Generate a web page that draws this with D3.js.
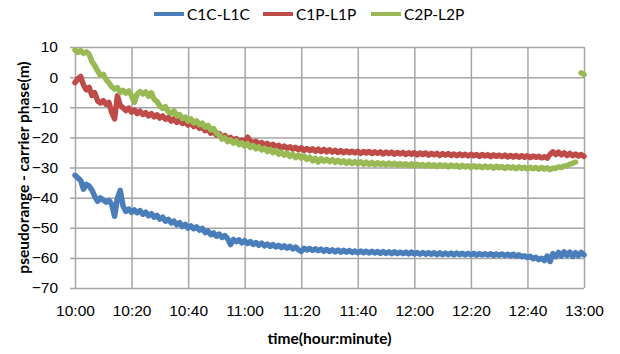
<!DOCTYPE html>
<html>
<head>
<meta charset="utf-8">
<script src="https://cdn.jsdelivr.net/npm/d3@7"></script>
<style>
  body { margin: 0; background: #fff; }
  svg { font-family: "Lato", "Liberation Sans", sans-serif; }
</style>
</head>
<body>
<div id="chart"></div>
<script>
// one sample per minute from 10:00 to 13:00
const start = new Date(2000, 0, 1, 10, 0);
const minutes = d3.range(0, 181);

const c1c = [
  -32.6, -33.4, -34.3, -37.2, -35.6, -36.2, -37.5, -39.6, -41.2, -40.1,
  -40.8, -41.5, -40.9, -42.3, -46.2, -40.2, -37.6, -42.8, -44.6, -43.8,
  -44.9, -44.1, -45.0, -44.3, -45.5, -44.8, -46.0, -45.3, -46.5, -45.9,
  -47.1, -46.5, -47.8, -47.2, -48.4, -47.8, -49.0, -48.3, -49.6, -48.9,
  -50.1, -49.4, -50.3, -49.7, -50.8, -50.2, -51.6, -51.0, -52.3, -51.7,
  -52.8, -52.1, -53.2, -52.6, -53.7, -55.6, -53.9, -54.6, -54.0, -55.0,
  -54.3, -55.2, -54.6, -55.5, -54.9, -55.8, -55.1, -56.0, -55.4, -56.2,
  -55.6, -56.4, -55.8, -56.6, -56.0, -56.8, -56.2, -57.0, -56.4, -57.3,
  -57.9, -56.8, -57.4, -56.9, -57.5, -57.0, -57.6, -57.1, -57.8, -57.2,
  -57.9, -57.3, -58.0, -57.4, -58.1, -57.5, -58.1, -57.6, -58.2, -57.7,
  -58.3, -57.7, -58.3, -57.8, -58.4, -57.8, -58.4, -57.9, -58.5, -57.9,
  -58.5, -58.0, -58.6, -58.0, -58.6, -58.1, -58.6, -58.1, -58.7, -58.1,
  -58.7, -58.2, -58.8, -58.2, -58.8, -58.3, -58.8, -58.3, -58.9, -58.3,
  -58.9, -58.4, -58.9, -58.4, -59.0, -58.4, -58.9, -58.5, -59.0, -58.5,
  -59.0, -58.5, -59.1, -58.6, -59.0, -58.6, -59.1, -58.6, -59.2, -58.7,
  -59.1, -58.7, -59.2, -58.8, -59.3, -58.8, -59.4, -59.0, -59.6, -59.3,
  -59.9, -59.5, -60.3, -59.8, -60.6, -60.1, -60.9, -59.4, -61.2, -58.6,
  -59.6, -58.2, -59.4, -58.0, -59.2, -58.1, -59.5, -58.3, -59.3, -58.2,
  -59.0
];

const c1p = [
  -1.8, -0.6, 0.2, -2.6, -4.2, -3.4, -6.1, -5.2, -7.9, -8.6,
  -7.8, -9.0, -8.4, -11.8, -13.9, -6.2, -9.4, -10.2, -11.1, -10.3,
  -11.6, -10.9, -12.1, -11.3, -12.4, -11.8, -12.9, -12.1, -13.2, -12.5,
  -13.6, -12.9, -14.0, -13.4, -14.6, -13.8, -15.0, -14.3, -15.4, -14.9,
  -15.9, -15.2, -16.4, -15.8, -17.0, -16.5, -17.8, -17.2, -18.6, -18.0,
  -19.2, -18.7, -19.9, -19.4, -20.6, -20.0, -21.0, -20.4, -21.5, -20.9,
  -21.6, -19.9, -21.2, -21.8, -21.3, -22.3, -21.7, -22.6, -22.0, -22.9,
  -22.3, -23.2, -22.6, -23.5, -22.9, -23.7, -23.1, -23.9, -23.3, -24.1,
  -23.5, -24.3, -23.7, -24.4, -23.8, -24.6, -23.9, -24.7, -24.0, -24.8,
  -24.1, -24.9, -24.3, -25.0, -24.4, -25.1, -24.5, -25.1, -24.6, -25.2,
  -24.6, -25.3, -24.7, -25.2, -24.7, -25.4, -24.8, -25.3, -24.8, -25.5,
  -24.9, -25.4, -24.9, -25.6, -25.0, -25.5, -25.0, -25.7, -25.1, -25.6,
  -25.1, -25.8, -25.2, -25.7, -25.2, -25.9, -25.3, -25.8, -25.3, -26.0,
  -25.4, -25.9, -25.4, -26.0, -25.5, -26.1, -25.5, -26.0, -25.6, -26.2,
  -25.6, -26.1, -25.7, -26.3, -25.7, -26.2, -25.8, -26.4, -25.8, -26.3,
  -25.9, -26.4, -25.9, -26.5, -26.0, -26.5, -26.0, -26.6, -26.1, -26.6,
  -26.1, -26.7, -26.2, -26.6, -26.3, -26.8, -26.4, -26.9, -25.6, -24.8,
  -25.7, -24.9, -25.8, -25.1, -26.0, -25.3, -26.1, -25.5, -26.2, -25.7,
  -26.3
];

// gap before the last two samples
const c2p = [
  9.0, 8.2, 8.8, 7.9, 8.4, 7.6, 5.2, 3.8, 2.1, 0.6,
  0.9, -0.8, -1.9, -3.2, -4.0, -3.5, -5.1, -4.4, -5.3, -4.6,
  -6.2, -8.4, -5.6, -4.8, -5.6, -4.9, -6.3, -5.2, -7.4, -8.1,
  -9.6, -10.4, -9.8, -11.6, -12.0, -11.2, -12.9, -12.4, -13.8, -13.3,
  -14.6, -13.9, -15.2, -14.5, -15.8, -15.3, -16.6, -16.0, -17.5, -17.1,
  -18.6, -19.2, -20.6, -20.1, -21.4, -20.8, -21.9, -21.2, -22.4, -21.8,
  -22.9, -22.1, -23.3, -22.7, -23.8, -23.1, -24.2, -23.6, -24.7, -24.0,
  -25.1, -24.3, -25.6, -24.9, -25.9, -25.2, -26.3, -25.6, -26.7, -25.9,
  -26.9, -26.2, -27.3, -26.6, -27.8, -26.9, -28.2, -27.1, -27.9, -27.3,
  -28.1, -27.4, -28.3, -27.6, -28.4, -27.8, -28.6, -27.9, -28.7, -28.0,
  -28.8, -28.1, -28.9, -28.2, -29.0, -28.3, -29.1, -28.4, -29.0, -28.5,
  -29.2, -28.5, -29.1, -28.6, -29.3, -28.7, -29.2, -28.8, -29.4, -28.8,
  -29.5, -28.9, -29.4, -29.0, -29.6, -29.0, -29.5, -29.1, -29.7, -29.1,
  -29.6, -29.2, -29.8, -29.2, -29.7, -29.3, -29.9, -29.3, -29.8, -29.4,
  -30.0, -29.4, -29.9, -29.5, -30.1, -29.5, -30.0, -29.6, -30.2, -29.6,
  -30.1, -29.7, -30.3, -29.7, -30.2, -29.8, -30.4, -29.8, -30.3, -29.9,
  -30.5, -29.9, -30.4, -30.0, -30.6, -30.0, -30.5, -30.1, -30.7, -30.2,
  -30.3, -29.8, -30.0, -29.5, -29.4, -28.9, -28.6, -28.2, null, 1.4,
  0.9
];

const seriesNames = ["C1C-L1C", "C1P-L1P", "C2P-L2P"];
const seriesColors = ["#4A7EBB", "#BE4B48", "#98B954"];
const yTicks = [10, 0, -10, -20, -30, -40, -50, -60, -70];

const width = 620, height = 354;
const margin = {top: 47, right: 36, bottom: 66, left: 75};

const svg = d3.select("#chart")
  .append("svg")
    .attr("width", width)
    .attr("height", height);

const x = d3.scaleTime()
  .domain([start, d3.timeMinute.offset(start, 180)])
  .range([margin.left, width - margin.right]);

const y = d3.scaleLinear()
  .domain([-70, 10])
  .range([height - margin.bottom, margin.top]);

// horizontal grid + y axis
const yAxis = svg.append("g")
  .attr("transform", "translate(" + margin.left + ",0)")
  .call(d3.axisLeft(y).tickValues(yTicks)
    .tickSize(5).tickPadding(12));
yAxis.select(".domain").remove();
yAxis.selectAll(".tick line")
  .attr("x2", width - margin.right - margin.left)
  .attr("x1", -5)
  .attr("stroke", "#a6a6a6")
  .attr("stroke-width", 1.5);
yAxis.selectAll(".tick text")
  .attr("font-size", 15.5)
  .attr("fill", "#000");

// vertical grid + x axis labels
const xAxis = svg.append("g")
  .attr("transform", "translate(0," + (height - margin.bottom) + ")")
  .call(d3.axisBottom(x)
    .ticks(d3.timeMinute.every(20))
    .tickFormat(d3.timeFormat("%H:%M"))
    .tickSize(0).tickPadding(17));
xAxis.select(".domain").remove();
xAxis.selectAll(".tick line")
  .attr("y2", -(height - margin.bottom - margin.top))
  .attr("stroke", "#a6a6a6")
  .attr("stroke-width", 1.5);
xAxis.selectAll(".tick text")
  .attr("font-size", 15.5)
  .attr("fill", "#000");

// lines
const seriesValues = [c1c, c1p, c2p];
const line = d3.line()
  .defined(d => d.v !== null)
  .x(d => x(d3.timeMinute.offset(start, d.m)))
  .y(d => y(d.v));

seriesValues.forEach((vals, i) => {
  svg.append("path")
    .datum(minutes.map((m, j) => ({m: m, v: vals[j]})))
    .attr("fill", "none")
    .attr("stroke", seriesColors[i])
    .attr("stroke-width", 5.5)
    .attr("stroke-linejoin", "round")
    .attr("stroke-linecap", "round")
    .attr("d", line);
});

// axis titles
svg.append("text")
  .attr("x", (margin.left + width - margin.right) / 2)
  .attr("y", 344)
  .attr("text-anchor", "middle")
  .attr("font-size", 15.5)
  .attr("font-weight", "bold")
  .text("time(hour:minute)");

svg.append("text")
  .attr("transform", "translate(29," + ((margin.top + height - margin.bottom) / 2) + ") rotate(-90)")
  .attr("text-anchor", "middle")
  .attr("font-size", 15.5)
  .attr("font-weight", "bold")
  .text("pseudorange - carrier phase(m)");

// legend
const legendX = [154, 263, 371];
seriesNames.forEach((name, i) => {
  const g = svg.append("g").attr("transform", "translate(" + legendX[i] + ",14)");
  g.append("line")
    .attr("x1", 0).attr("x2", 30)
    .attr("stroke", seriesColors[i])
    .attr("stroke-width", 4);
  g.append("text")
    .attr("x", 33)
    .attr("dy", "0.36em")
    .attr("font-size", 15.5)
    .text(name);
});
</script>
</body>
</html>
